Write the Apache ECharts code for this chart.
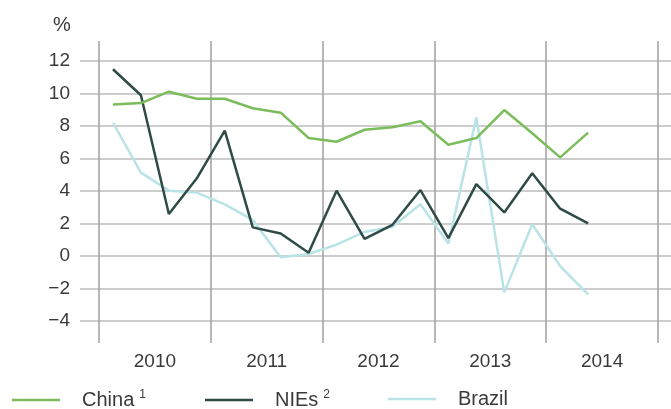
<!DOCTYPE html>
<html>
<head>
<meta charset="utf-8">
<script src="https://cdn.jsdelivr.net/npm/echarts@6/dist/echarts.min.js"></script>
<style>html,body{margin:0;padding:0;background:#fff;}#c{width:671px;height:409px;}</style>
</head>
<body>
<div id="c"></div>
<script>
// Quarterly data, 2010 Q1 – 2014 Q2
var years = ['2010', '2011', '2012', '2013', '2014'];
var yTicks = [-4, -2, 0, 2, 4, 6, 8, 10, 12];
var china = [9.33, 9.41, 10.11, 9.68, 9.68, 9.09, 8.82, 7.26, 7.03, 7.77, 7.92, 8.29, 6.85, 7.26, 8.98, 7.55, 6.07, 7.59];
var nies = [11.49, 9.89, 2.58, 4.78, 7.71, 1.76, 1.39, 0.2, 4.02, 1.05, 1.92, 4.06, 1.1, 4.42, 2.68, 5.09, 2.91, 2.01];
var brazil = [8.2, 5.13, 4.02, 3.9, 3.18, 2.22, -0.08, 0.12, 0.7, 1.48, 1.8, 3.18, 0.76, 8.53, -2.24, 1.95, -0.62, -2.36];

function toPts(arr) { return arr.map(function (v, i) { return [i + 0.5, v]; }); }

var txt = '#3a3a3a';
var font = 'Liberation Sans';
var chart = echarts.init(document.getElementById('c'), null, {renderer: 'canvas'});

function legendCfg(name, left) {
  return {
    data: [name], left: left, top: 389, orient: 'horizontal', padding: 0,
    icon: 'rect', itemWidth: 48, itemHeight: 2.5,
    selectedMode: false,
    formatter: function (n) {
      if (n === 'China') return '{n|China}{s|1}';
      if (n === 'NIEs') return '{n|NIEs}{s|2}';
      return '{n|' + n + '}';
    },
    textStyle: {
      color: txt, fontFamily: font,
      rich: {
        n: {fontSize: 20, fontFamily: font, color: txt, padding: [0, 0, 0, 17], lineHeight: 22},
        s: {fontSize: 12, fontFamily: font, color: txt, padding: [0, 0, 0, 5], verticalAlign: 'top', lineHeight: 14}
      }
    }
  };
}

chart.setOption({
  animation: false,
  backgroundColor: '#fff',
  grid: [
    {left: 80, right: 0, top: 61, bottom: 88},
    {left: 99, right: 13, top: 41, bottom: 66}
  ],
  graphic: [{type: 'text', left: 53, top: 15, style: {text: '%', fontSize: 20, fontFamily: font, fill: txt}}],
  xAxis: [
    {gridIndex: 0, type: 'value', min: 0, max: 1, show: false},
    {gridIndex: 1, type: 'value', min: 0, max: 20, interval: 4,
      axisLine: {show: false}, axisTick: {show: false}, axisLabel: {show: false},
      splitLine: {show: true, lineStyle: {color: '#a0a0a0', width: 1.5}}},
    {gridIndex: 1, type: 'value', min: 0, max: 20, interval: 2, position: 'bottom',
      axisLine: {show: false}, axisTick: {show: false}, splitLine: {show: false},
      axisLabel: {show: true, margin: 9, fontSize: 19, fontFamily: font, color: txt,
        formatter: function (v) { return (v % 4 === 2) ? years[(v - 2) / 4] : ''; }}}
  ],
  yAxis: [
    {gridIndex: 0, type: 'value', min: yTicks[0], max: yTicks[yTicks.length - 1], interval: 2,
      axisLine: {show: false}, axisTick: {show: false},
      axisLabel: {margin: 10, fontSize: 19, fontFamily: font, color: txt,
        formatter: function (v) { return v < 0 ? '\u2212' + Math.abs(v) : String(v); }},
      splitLine: {show: true, lineStyle: {color: '#bcbcbc', width: 1.5}}},
    {gridIndex: 1, type: 'value', min: -4 - 22 / 16.25, max: 12 + 20 / 16.25, show: false}
  ],
  legend: [legendCfg('China', 12), legendCfg('NIEs', 205), legendCfg('Brazil', 388)],
  series: [
    {name: 'Brazil', type: 'line', xAxisIndex: 1, yAxisIndex: 1, data: toPts(brazil), symbol: 'none',
      color: '#b9e3e6', lineStyle: {width: 2.5, color: '#b9e3e6'}, z: 2},
    {name: 'NIEs', type: 'line', xAxisIndex: 1, yAxisIndex: 1, data: toPts(nies), symbol: 'none',
      color: '#2f4b48', lineStyle: {width: 2.5, color: '#2f4b48'}, z: 3},
    {name: 'China', type: 'line', xAxisIndex: 1, yAxisIndex: 1, data: toPts(china), symbol: 'none',
      color: '#7bbd5b', lineStyle: {width: 2.5, color: '#7bbd5b'}, z: 4}
  ]
});
</script>
</body>
</html>
